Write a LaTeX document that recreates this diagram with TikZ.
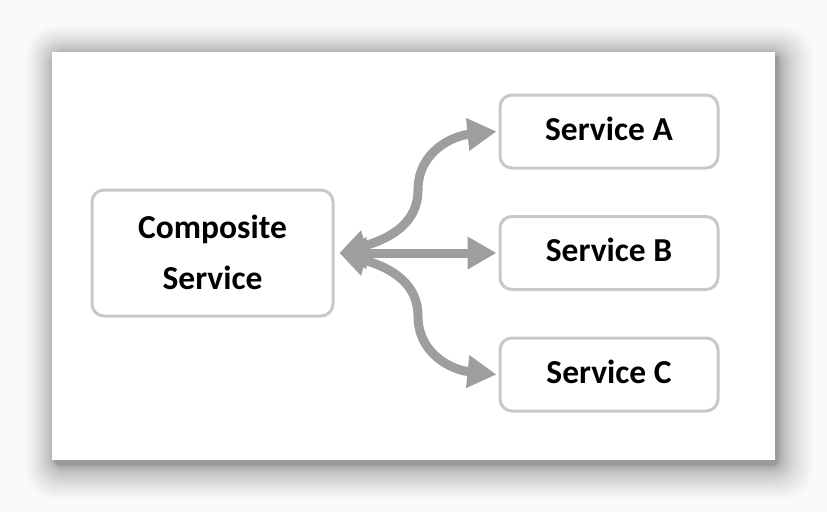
\documentclass[tikz,border=0pt]{standalone}
\usepackage{fontspec}
\setmainfont{Carlito}
\usetikzlibrary{arrows.meta}
\definecolor{boxline}{RGB}{200,200,200}
\definecolor{flowgray}{RGB}{158,158,158}
\definecolor{pagebg}{RGB}{250,250,250}
\begin{document}
\begin{tikzpicture}[x=1pt,y=-1pt]
    \tikzstyle{box}=[draw=boxline,line width=3pt,rounded corners=12pt,fill=white,
      font=\bfseries\fontsize{33.5}{51}\selectfont,align=center,inner sep=0pt]
    \tikzstyle{service}=[box,minimum width=218pt,minimum height=73pt,text depth=6pt]
    \tikzstyle{flow}=[draw=flowgray,line width=9pt,
      {Triangle[length=27pt,width=30pt]}-{Triangle[length=29pt,width=31pt]}]

    \useasboundingbox (0,0) rectangle (827,512);
    \fill[pagebg] (0,0) rectangle (827,512);
    % drop shadow of the panel
    \foreach \i [evaluate=\i as \r using 2+0.8*\i] in {1,...,34}
    \fill[black,opacity=0.011,rounded corners=\r pt]
      ({55-0.025*\i*\i},{55-0.025*\i*\i}) rectangle ({778+0.03*\i*\i},{465+0.03*\i*\i});
    \fill[white] (52,52) rectangle (775,460);

    \node[box,minimum width=241pt,minimum height=126pt,text depth=2pt] (C-0) at (212.5,253) {Composite\\Service};
    \foreach \n/\y in {A/131.5,B/253,C/374.5}
    \node[service] (S-\n) at (609,\y) {Service \n};

    \coordinate (hub) at ([xshift=5pt]C-0.east);

    \draw[flow] (hub) .. controls (392,238) and (418,222) .. (418,190)
      .. controls (418,152) and (452,136) .. ([xshift=-2pt]S-A.west);
    \draw[flow] (hub) -- ([xshift=-2pt]S-B.west);
    \draw[flow] (hub) .. controls (392,268) and (418,284) .. (418,316)
      .. controls (418,354) and (452,370) .. ([xshift=-2pt]S-C.west);
  \end{tikzpicture}
\end{document}
